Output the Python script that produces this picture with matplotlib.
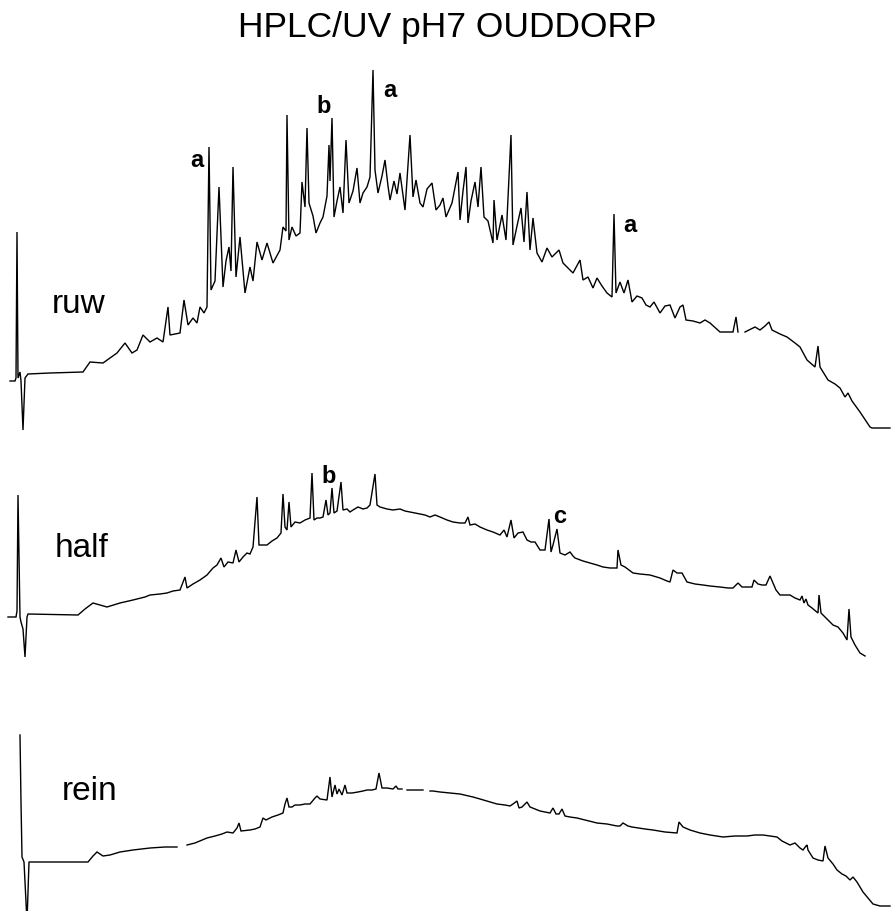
import numpy as np
import matplotlib.pyplot as plt

plt.rcParams['font.family'] = ['Liberation Sans', 'DejaVu Sans']

title = 'HPLC/UV pH7 OUDDORP'
nan = np.nan

# retention time (chart units) and detector signal above each trace's start level
ruw_t = [10, 15, 16, 17, 18, 20, 21, 23, 25, 28, 50, 83, 90, 103, 117, 125, 132, 137, 143, 150,
         157, 163, 168, 170, 180, 184, 188, 193, 197, 200, 204, 207, 209, 211, 215, 219, 223, 226, 229, 231,
         233, 236, 240, 245, 250, 253, 257, 262, 267, 273, 280, 283, 286, 287, 289, 292, 296, 300, 302, 305,
         307, 309, 313, 316, 320, 323, 327, 329, 330, 332, 334, 337, 340, 343, 346, 349, 353, 357, 360, 363,
         367, 370, 373, 375, 378, 382, 385, 388, 390, 394, 397, 400, 405, 410, 413, 416, 420, 423, 427, 432,
         436, 440, 443, 446, 452, 458, 460, 463, 466, 468, 471, 475, 478, 481, 484, 488, 493, 494, 497, 502,
         506, 511, 513, 517, 521, 524, 527, 530, 533, 537, 542, 547, 552, 556, 559, 563, 568, 573, 580, 583,
         588, 593, 597, 602, 607, 612, 614, 616, 620, 624, 628, 632, 637, 642, 646, 650, 654, 660, 665, 670,
         675, 680, 683, 686, 693, 700, 705, 710, 720, 733, 736, 738, 741, 745, 755, 760, 765, 769, 772, 780,
         787, 795, 800, 807, 815, 818, 820, 828, 835, 840, 845, 848, 852, 860, 870, 872, 890]
ruw_s = [0, 0, 3, 149, 3, 9, 0, -49, 3, 7, 8, 9, 19, 18, 28, 38, 28, 31, 46, 39,
         43, 39, 74, 46, 48, 81, 56, 63, 58, 74, 68, 74, 234, 91, 100, 194, 94, 120, 134, 110,
         214, 104, 144, 88, 114, 100, 139, 121, 138, 118, 131, 154, 150, 266, 141, 154, 145, 148, 199, 174,
         253, 178, 165, 148, 158, 164, 185, 236, 200, 263, 164, 180, 194, 168, 241, 178, 190, 213, 178, 188,
         194, 204, 311, 211, 188, 205, 221, 195, 181, 200, 187, 208, 171, 246, 184, 201, 178, 174, 192, 198,
         171, 176, 183, 164, 178, 209, 161, 190, 214, 158, 180, 199, 174, 214, 164, 160, 138, 181, 141, 166,
         141, 246, 136, 155, 173, 139, 189, 131, 163, 128, 119, 133, 124, 128, 131, 118, 113, 108, 121, 101,
         104, 93, 103, 95, 88, 84, 167, 88, 99, 88, 101, 79, 85, 83, 76, 74, 79, 68, 75, 76,
         63, 74, 76, 61, 60, 58, 61, 58, 49, 49, 64, 49, nan, 49, 54, 51, 55, 59, 51, 47,
         44, 38, 34, 21, 14, 35, 14, 1, -3, -7, -16, -12, -20, -31, -46, -47, -47]

half_t = [8, 16, 17, 18, 19, 20, 21, 23, 25, 27, 28, 78, 85, 93, 100, 107, 120, 133, 145, 150,
          160, 167, 173, 180, 185, 187, 193, 200, 207, 213, 217, 221, 224, 228, 233, 236, 239, 243, 247, 250,
          253, 257, 259, 263, 267, 272, 277, 281, 283, 285, 287, 289, 291, 295, 300, 305, 310, 312, 314, 317,
          320, 323, 326, 328, 330, 332, 334, 337, 341, 343, 347, 350, 353, 358, 363, 367, 370, 375, 377, 380,
          387, 393, 400, 405, 410, 415, 420, 425, 430, 435, 440, 447, 453, 460, 465, 468, 470, 475, 480, 487,
          493, 500, 504, 507, 511, 514, 518, 523, 527, 531, 535, 540, 545, 549, 551, 553, 557, 560, 565, 570,
          573, 575, 583, 590, 597, 603, 610, 617, 618, 621, 625, 633, 640, 650, 660, 667, 670, 673, 677, 682,
          687, 695, 703, 710, 720, 728, 733, 738, 742, 750, 752, 754, 758, 762, 766, 770, 773, 776, 780, 785,
          790, 795, 800, 802, 804, 806, 808, 812, 818, 819, 821, 826, 833, 838, 843, 847, 849, 851, 855, 860,
          865]
half_s = [0, 0, 6, 122, 60, 0, -5, -12, -40, 0, 3, 2, 8, 14, 12, 10, 14, 17, 20, 22,
          23, 24, 26, 27, 40, 29, 33, 37, 42, 49, 52, 59, 50, 55, 54, 67, 55, 60, 64, 63,
          70, 120, 72, 72, 72, 76, 79, 84, 123, 90, 87, 115, 90, 95, 94, 97, 99, 144, 97, 99,
          99, 100, 117, 102, 104, 129, 104, 106, 135, 107, 108, 105, 107, 110, 108, 109, 112, 143, 112, 110,
          108, 107, 108, 106, 105, 104, 103, 102, 100, 102, 100, 97, 95, 94, 94, 100, 92, 93, 90, 87,
          85, 82, 87, 80, 97, 79, 84, 85, 77, 75, 75, 67, 67, 98, 65, 72, 88, 64, 62, 65,
          61, 59, 56, 54, 52, 50, 49, 49, 67, 52, 50, 44, 43, 42, 39, 36, 35, 47, 44, 44,
          35, 33, 32, 31, 30, 29, 29, 34, 30, 30, 30, 37, 33, 32, 32, 41, 34, 27, 22, 22,
          22, 19, 17, 21, 14, 18, 12, 9, 4, 22, 4, -1, -8, -10, -16, -23, 8, -20, -28, -36,
          -39]

rein_t = [20, 21, 22, 24, 27, 29, 33, 60, 88, 93, 97, 103, 110, 120, 133, 150, 165, 177, 182, 187,
          195, 207, 215, 222, 227, 233, 237, 239, 241, 250, 255, 260, 263, 266, 272, 278, 283, 285, 287, 289,
          292, 295, 300, 305, 310, 315, 317, 320, 327, 330, 332, 335, 337, 339, 342, 345, 347, 352, 358, 363,
          367, 372, 376, 379, 382, 387, 393, 396, 398, 402, 404, 407, 415, 423, 426, 430, 433, 440, 450, 460,
          473, 480, 497, 505, 510, 513, 517, 519, 522, 527, 530, 540, 550, 553, 556, 559, 562, 565, 570, 577,
          585, 597, 607, 617, 620, 623, 628, 632, 645, 653, 665, 677, 679, 683, 690, 700, 710, 723, 735, 747,
          755, 763, 770, 777, 782, 790, 795, 800, 803, 806, 807, 808, 813, 818, 823, 825, 828, 833, 837, 842,
          846, 850, 853, 857, 860, 863, 868, 873, 880, 890]
rein_s = [127, 60, 5, 0, -60, 0, 0, 0, 0, 6, 10, 6, 7, 10, 12, 14, 15, 15, nan, 17,
          19, 24, 26, 28, 30, 29, 34, 39, 31, 32, 33, 35, 44, 42, 45, 47, 49, 58, 64, 55,
          55, 57, 57, 58, 58, 64, 66, 63, 62, 85, 65, 77, 68, 73, 67, 77, 69, 69, 70, 71,
          72, 72, 73, 89, 74, 74, 73, 76, 73, 73, nan, 72, 72, 72, nan, 71, 71, 70, 69, 68,
          65, 63, 58, 57, 56, 58, 61, 54, 55, 60, 55, 51, 49, 54, 48, 48, 53, 46, 45, 44,
          42, 39, 38, 36, 36, 39, 36, 35, 33, 32, 30, 29, 40, 35, 32, 29, 27, 25, 26, 26,
          27, 27, 26, 25, 21, 17, 19, 14, 12, 16, 17, 12, 4, 2, 1, 16, 4, -2, -8, -12,
          -14, -18, -15, -20, -25, -30, -36, -42, -44, -44]

traces = [
    ('ruw', ruw_t, ruw_s, 381, (52, 313)),
    ('half', half_t, half_s, 617, (55, 557)),
    ('rein', rein_t, rein_s, 862, (62, 800)),
]

# peak letters: (text, x, baseline y)
peak_labels = [
    ('a', 197, 167), ('b', 324, 113), ('a', 390, 97), ('a', 630, 232),
    ('b', 329, 483), ('c', 560, 523),
]

fig = plt.figure(figsize=(8.91, 9.11), dpi=100)
ax = fig.add_axes([0, 0, 1, 1])

for name, t, s, base, (lx, ly) in traces:
    y = np.array(s, dtype=float) - base
    ax.plot(t, y, color='black', lw=1.0, solid_joinstyle='miter')
    ax.text(lx, -ly, name, fontsize=24, ha='left', va='baseline')

for txt, x, y in peak_labels:
    ax.text(x, -y, txt, fontsize=17, fontweight='bold', ha='center', va='baseline')

ax.text(447, -37, title, fontsize=25.5, ha='center', va='baseline')

ax.set_xlim(0, 891)
ax.set_ylim(-911, 0)
ax.axis('off')

fig.savefig('out.png', dpi=100, facecolor='white')
